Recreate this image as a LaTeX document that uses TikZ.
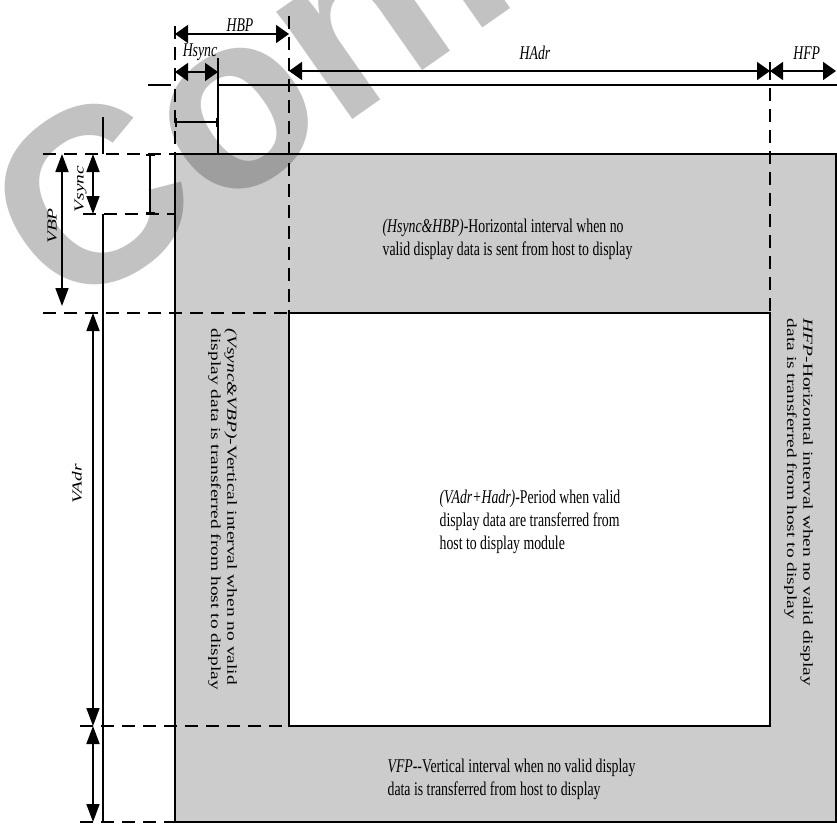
\documentclass[tikz,border=0pt]{standalone}
\usepackage{fontspec}
\setmainfont{Liberation Serif}
\newfontfamily\markfont{Liberation Sans}
\usetikzlibrary{arrows.meta}
\definecolor{panel}{RGB}{204,204,204}
\definecolor{markgray}{RGB}{194,194,194}
\definecolor{markdark}{RGB}{158,158,158}

\begin{document}
\begin{tikzpicture}[x=1bp,y=-1bp,line width=1.7bp,
  txt/.style={font=\fontsize{19.5}{23}\selectfont,inner sep=0pt,align=left,xscale=0.71},
  lbl/.style={font=\fontsize{19.5}{23}\selectfont\itshape,inner sep=0pt,xscale=0.71},
  wmark/.style={anchor=base west,rotate=35,inner sep=0pt,
    font=\markfont\bfseries\fontsize{250}{250}\selectfont},
  hdim/.style={arrows={Triangle[length=13bp,width=18bp]-Triangle[length=13bp,width=18bp]}},
  vdim/.style={arrows={Triangle[length=18bp,width=13bp]-Triangle[length=18bp,width=13bp]}},
  guide/.style={dash pattern=on 13bp off 8bp},
  pulse/.style={arrows={Bar[width=9bp]-Bar[width=9bp]}}]
  \useasboundingbox (0,0) rectangle (837,825);

  % blanking area and active area
  \fill[panel] (175,154) rectangle (836,822);
  \fill[white] (289,313) rectangle (770,726);

  % watermark
  \begin{scope}
    \clip (0,0) rectangle (837,825);
    \node[wmark,text=markgray] (mark) at (66,320) {Confidential};
  \end{scope}
  \begin{scope}
    \clip (175,154) rectangle (836,313);
    \node[wmark,text=markdark] (markbox) at (66,320) {Confidential};
  \end{scope}

  \draw (175,154) rectangle (836,822);
  \draw (289,313) rectangle (770,726);

  % guide lines
  \draw[guide] (175,26) -- (175,154);
  \draw[guide] (289,16) -- (289,313);
  \draw (218,58) -- (218,154);
  \draw (770,62) -- (770,80);
  \draw[guide] (770,88) -- (770,313);
  \draw[guide] (43,154) -- (175,154);
  \draw[guide] (83,214) -- (175,214);
  \draw[guide] (43,313) -- (289,313);
  \draw[guide] (80,726) -- (289,726);
  \draw[guide] (80,822) -- (175,822);

  % hsync / vsync signals
  \draw (148,85) -- (171,85);
  \draw (218,85) -- (837,85);
  \draw[pulse] (175,122) -- (218,122);
  \draw (103,117) -- (103,154);
  \draw (103,214) -- (103,822);
  \draw[pulse] (150,154) -- (150,214);

  % dimensions
  \draw[hdim] (175,34) -- (289,34);
  \draw[hdim] (175,72) -- (218,72);
  \draw[hdim] (289,71) -- (770,71);
  \draw[hdim] (770,71) -- (836,71);
  \draw[vdim] (62,154) -- (62,306);
  \draw[vdim] (93,154) -- (93,214);
  \draw[vdim] (93,313) -- (93,726);
  \draw[vdim] (93,726) -- (93,822);

  \node[lbl,anchor=base] (hbpL) at (240,31.5) {HBP};
  \node[lbl,anchor=base] (hsyncL) at (200,56) {Hsync};
  \node[lbl,anchor=base] (hadrL) at (535,59) {HAdr};
  \node[lbl,anchor=base] (hfpL) at (806.7,59) {HFP};
  \node[lbl,rotate=90,anchor=base] (vsyncL) at (83.5,189) {Vsync};
  \node[lbl,rotate=90,anchor=base] (vbpL) at (56.7,226) {VBP};
  \node[lbl,rotate=90,anchor=base] (vadrL) at (81.7,484) {VAdr};

  % descriptions
  \node[txt,anchor=north west] (hsbp) at (382,218.5)
    {\textit{(Hsync\&HBP)}-Horizontal interval when no\\valid display data is sent from host to display};
  \node[txt,anchor=north west] (active) at (439,489.5)
    {\textit{(VAdr+Hadr)}-Period when valid\\display data are transferred from\\host to display module};
  \node[txt,anchor=north west] (vfp) at (387,758.5)
    {\textit{VFP}-{}-Vertical interval when no valid display\\data is transferred from host to display};
  \node[txt,rotate=-90,anchor=north west] (vsbp) at (237.5,328)
    {\textit{(Vsync\&VBP)}-Vertical interval when no valid\\display data is transferred from host to display};
  \node[txt,rotate=-90,anchor=north west] (hfp) at (813.5,318)
    {\textit{HFP}-Horizontal interval when no valid display\\data is transferred from host to display};
\end{tikzpicture}
\end{document}
